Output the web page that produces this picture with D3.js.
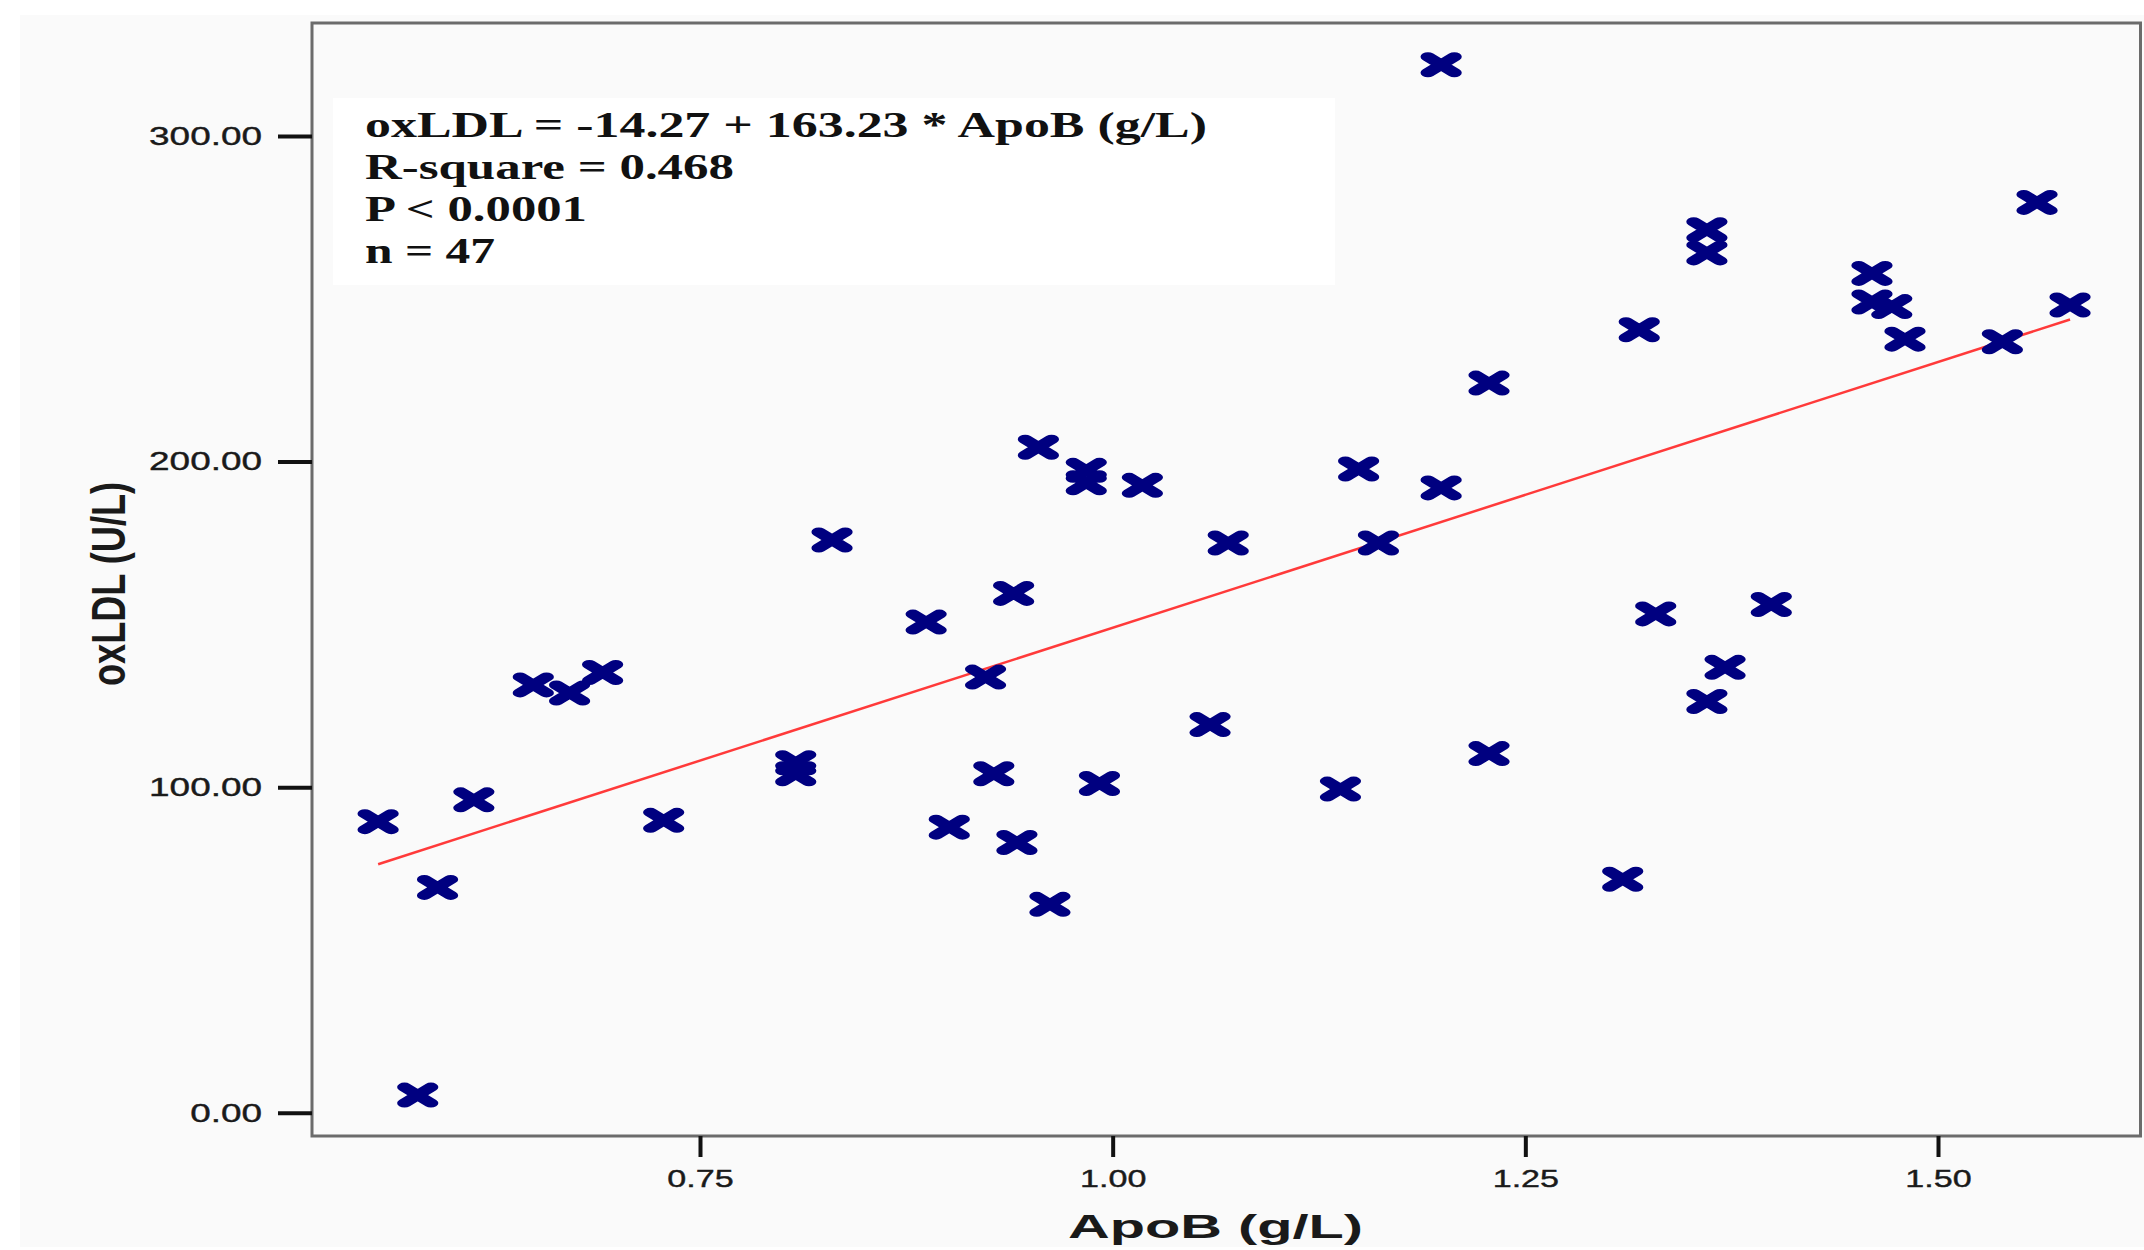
<!DOCTYPE html>
<html>
<head>
<meta charset="utf-8">
<script src="https://cdn.jsdelivr.net/npm/d3@7"></script>
<style>
  html, body { margin: 0; padding: 0; background: #ffffff; }
  svg { display: block; }
</style>
</head>
<body>
<svg id="chart" width="2144" height="1250"></svg>
<script>
// ---- data ----
const apoB = [0.555, 0.579, 0.591, 0.613, 0.649, 0.671, 0.691, 0.728, 0.808, 0.808,
  0.830, 0.887, 0.901, 0.923, 0.928, 0.940, 0.942, 0.955, 0.962, 0.984,
  0.984, 0.992, 1.018, 1.059, 1.070, 1.138, 1.149, 1.161, 1.199, 1.199,
  1.228, 1.228, 1.309, 1.319, 1.329, 1.360, 1.360, 1.360, 1.371, 1.399,
  1.460, 1.460, 1.472, 1.480, 1.539, 1.560, 1.580];
const oxLDL = [89.4, 5.4, 69.2, 96.1, 131.4, 128.9, 135.2, 89.8, 107.5, 104.1,
  175.9, 150.7, 87.7, 133.8, 104.1, 159.5, 83.0, 204.4, 64.0, 197.3,
  193.5, 101.1, 192.7, 119.2, 175.0, 99.4, 197.7, 175.0, 321.9, 191.9,
  224.1, 110.3, 71.7, 240.5, 153.2, 271.2, 264.1, 126.3, 136.8, 156.1,
  257.8, 249.0, 247.6, 237.6, 236.8, 279.6, 248.1];
const xTicks = [0.75, 1.00, 1.25, 1.50];
const yTicks = [0, 100, 200, 300];
const fitIntercept = -14.27;
const fitSlope = 163.23;
const statLines = ["oxLDL = -14.27 + 163.23 * ApoB (g/L)", "R-square = 0.468", "P < 0.0001", "n = 47"];
const xTitle = "ApoB (g/L)";
const yTitle = "oxLDL (U/L)";

// ---- layout ----
const frame = { left: 312, top: 23, right: 2140.5, bottom: 1136 };
const svg = d3.select("#chart");

const x = d3.scaleLinear().domain([0.75, 1.50]).range([700, 1938]);
const y = d3.scaleLinear().domain([0, 300]).range([1112.7, 136]);

// background
svg.append("rect").attr("x", 0).attr("y", 0).attr("width", 2144).attr("height", 1250).attr("fill", "#ffffff");
svg.append("rect").attr("x", 20).attr("y", 15).attr("width", 2124).attr("height", 1232).attr("fill", "#fafafa");

// frame
svg.append("rect")
  .attr("x", frame.left).attr("y", frame.top)
  .attr("width", frame.right - frame.left).attr("height", frame.bottom - frame.top)
  .attr("fill", "#fafafa").attr("stroke", "#6b6b6b").attr("stroke-width", 3);

// stretch helper for text
function stretch(sel, k) {
  sel.each(function() {
    const w = this.getComputedTextLength();
    d3.select(this).attr("textLength", w * k).attr("lengthAdjust", "spacingAndGlyphs");
  });
}

// y axis
const yAxis = svg.append("g")
  .attr("transform", `translate(${frame.left},0)`)
  .call(d3.axisLeft(y).tickValues(yTicks).tickSize(34).tickPadding(16).tickFormat(d3.format(".2f")));
yAxis.select(".domain").remove();
yAxis.selectAll(".tick line").attr("stroke", "#111").attr("stroke-width", 4);
yAxis.selectAll(".tick text")
  .attr("font-family", "'Liberation Sans', Arial, sans-serif")
  .attr("font-size", 26).attr("fill", "#1a1a1a")
  .attr("stroke", "#1a1a1a").attr("stroke-width", 0.4)
  .call(stretch, 1.42);

// x axis
const xAxis = svg.append("g")
  .attr("transform", `translate(0,${frame.bottom})`)
  .call(d3.axisBottom(x).tickValues(xTicks).tickSize(21).tickPadding(13).tickFormat(d3.format(".2f")));
xAxis.select(".domain").remove();
xAxis.selectAll(".tick line").attr("stroke", "#111").attr("stroke-width", 4);
xAxis.selectAll(".tick text")
  .attr("font-family", "'Liberation Sans', Arial, sans-serif")
  .attr("font-size", 24).attr("fill", "#1a1a1a")
  .attr("stroke", "#1a1a1a").attr("stroke-width", 0.4)
  .call(stretch, 1.42);

// axis titles
svg.append("text")
  .attr("x", 1215.5).attr("y", 1238)
  .attr("text-anchor", "middle")
  .attr("font-family", "'Liberation Sans', Arial, sans-serif")
  .attr("font-weight", "bold").attr("font-size", 33).attr("fill", "#1a1a1a")
  .attr("textLength", 295).attr("lengthAdjust", "spacingAndGlyphs")
  .text(xTitle);

svg.append("g")
  .attr("transform", "translate(125,584) scale(1.45,1)")
  .append("text")
  .attr("transform", "rotate(-90)")
  .attr("x", 0).attr("y", 0)
  .attr("text-anchor", "middle")
  .attr("font-family", "'Liberation Sans', Arial, sans-serif")
  .attr("font-weight", "bold").attr("font-size", 33).attr("fill", "#1a1a1a")
  .attr("textLength", 204).attr("lengthAdjust", "spacingAndGlyphs")
  .text(yTitle);

// stats box
svg.append("rect").attr("x", 333).attr("y", 98).attr("width", 1002).attr("height", 187).attr("fill", "#ffffff");
const statWidths = [842, 369, 222, 130];
svg.selectAll("text.stat").data(statLines).join("text")
  .attr("class", "stat")
  .attr("x", 365)
  .attr("y", (d, i) => 137 + i * 42)
  .attr("font-family", "'Liberation Serif', 'Times New Roman', serif")
  .attr("font-weight", "bold").attr("font-size", 36).attr("fill", "#111")
  .attr("textLength", (d, i) => statWidths[i]).attr("lengthAdjust", "spacingAndGlyphs")
  .text(d => d);

// regression line across the data range
const xr = d3.extent(apoB);
svg.append("path")
  .datum(xr)
  .attr("d", d3.line().x(d => x(d)).y(d => y(fitIntercept + fitSlope * d)))
  .attr("stroke", "#ff3a3a").attr("stroke-width", 2.5).attr("fill", "none");

// markers
const pts = apoB.map((v, i) => ({ x: v, y: oxLDL[i] }));
svg.append("g").selectAll("path").data(pts).join("path")
  .attr("transform", d => `translate(${x(d.x)},${y(d.y)}) scale(1.65,1)`)
  .attr("d", "M-8,-8L8,8M-8,8L8,-8")
  .attr("stroke", "#000080").attr("stroke-width", 9).attr("stroke-linecap", "round")
  .attr("fill", "none");
</script>
</body>
</html>
